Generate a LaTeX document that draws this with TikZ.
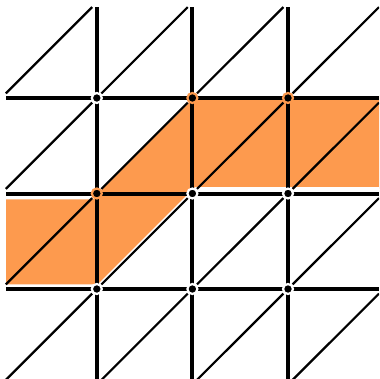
\documentclass[tikz,border=0pt]{standalone}
\definecolor{orng}{RGB}{253,154,78}
\begin{document}
\begin{tikzpicture}[x=1pt,y=-1pt,
  gridline/.style={line width=4pt, shorten >=4.8pt, shorten <=4.8pt},
  diagline/.style={line width=2.2pt, shorten >=6.5pt, shorten <=6.5pt},
  vdot/.style={circle, fill=black, line width=2.2pt, minimum size=10pt, inner sep=0pt},
  ringw/.style={vdot, draw=white},
  ringo/.style={vdot, draw=orng},
  band/.style={fill=orng, draw=white, line width=3.5pt, line join=round}]
\useasboundingbox (0,0) rectangle (379,379);
\clip (0,0) rectangle (379,379);
\foreach \i in {0,...,4}{
  \foreach \j in {0,...,4}{
    \coordinate (v\i\j) at ({1.2+95.6*\i},{2.5+95.5*\j});
  }
}
% orange band
\path[band] (4.2,197.5) -- (92.5,197.5) -- (95.8,193) -- (193.6,95.5)
  -- (392,95.5) -- (392,188.75) -- (195.95,188.75) -- (98.6,286)
  -- (4.2,286) -- cycle;
% horizontal lines
\foreach \j in {1,2,3}{
  \foreach \i [evaluate=\i as \k using int(\i+1)] in {0,...,3}{
    \draw[gridline] (v\i\j) -- (v\k\j);
  }
}
% vertical lines
\foreach \i in {1,2,3}{
  \foreach \j [evaluate=\j as \k using int(\j+1)] in {0,...,3}{
    \draw[gridline] (v\i\j) -- (v\i\k);
  }
}
% diagonals
\foreach \i [evaluate=\i as \ii using int(\i+1)] in {0,...,3}{
  \foreach \j [evaluate=\j as \jj using int(\j+1)] in {0,...,3}{
    \draw[diagline] (v\i\jj) -- (v\ii\j);
  }
}
% vertices
\node[ringw] (d11) at (v11) {};
\node[ringo] (d21) at (v21) {};
\node[ringo] (d31) at (v31) {};
\node[ringo] (d12) at (v12) {};
\node[ringw] (d22) at (v22) {};
\node[ringw] (d32) at (v32) {};
\node[ringw] (d13) at (v13) {};
\node[ringw] (d23) at (v23) {};
\node[ringw] (d33) at (v33) {};
\end{tikzpicture}
\end{document}
